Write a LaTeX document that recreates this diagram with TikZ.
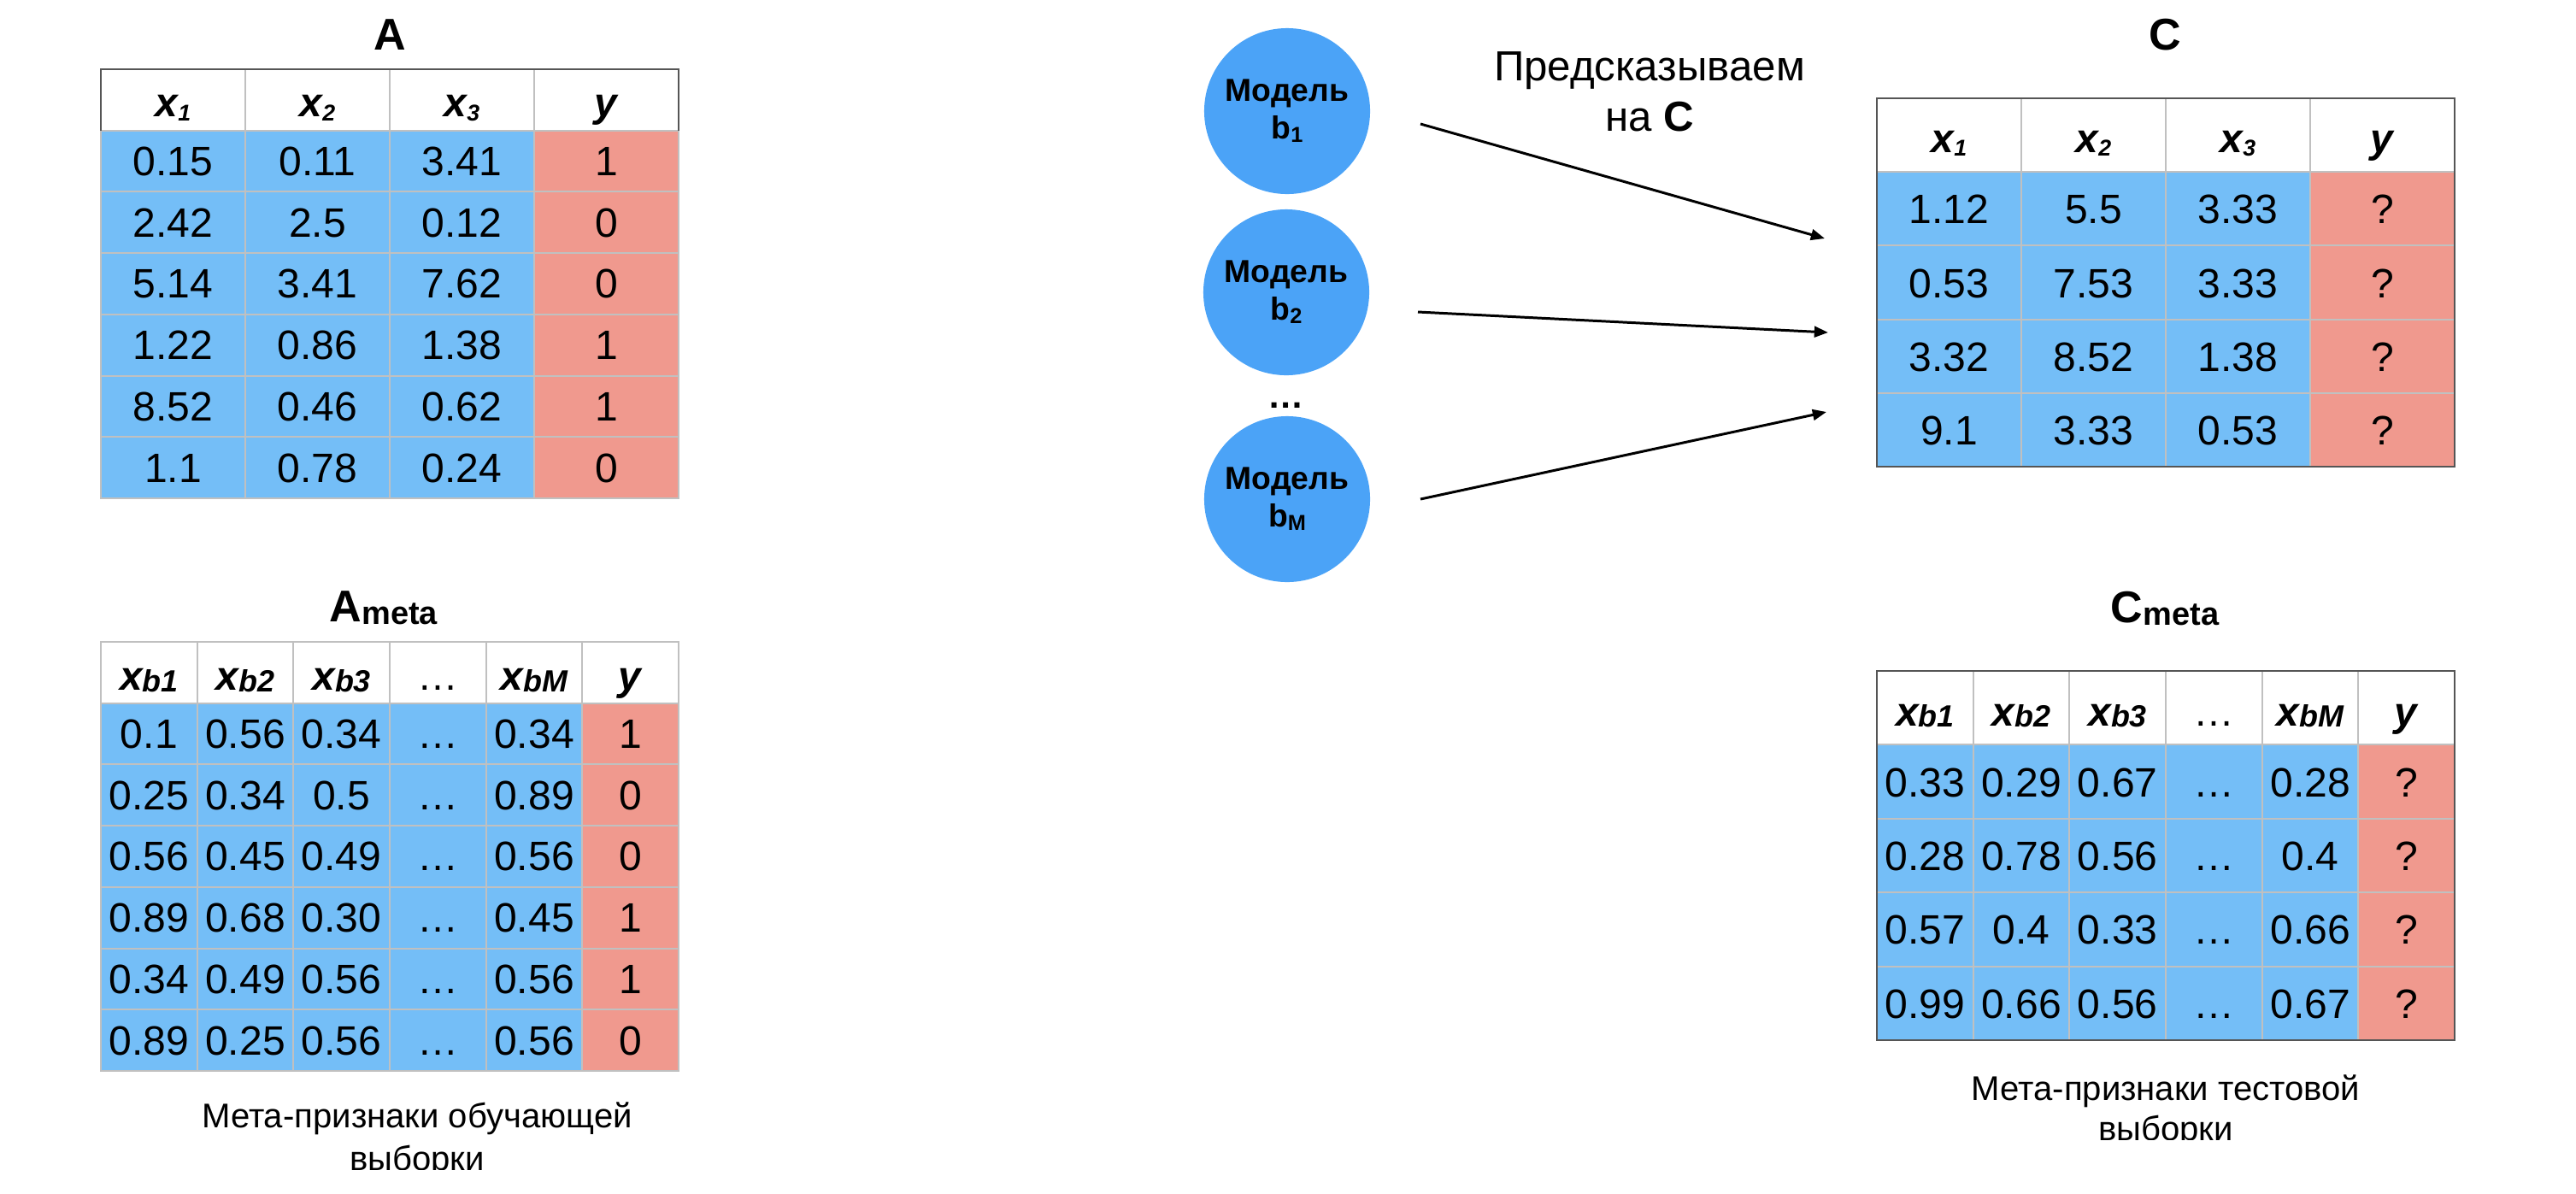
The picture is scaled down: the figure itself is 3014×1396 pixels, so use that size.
\documentclass[tikz,border=0pt]{standalone}
\usepackage{fontspec}
\setmainfont{Liberation Sans}
\usetikzlibrary{arrows.meta}

\definecolor{cellblue}{RGB}{116,190,247}
\definecolor{cellred}{RGB}{240,153,142}
\definecolor{modelblue}{RGB}{75,163,247}
\definecolor{gridgray}{RGB}{192,192,192}
\definecolor{edgegray}{RGB}{85,85,85}

% size helper and a lowered, smaller suffix
\newcommand\fsz[1]{\fontsize{#1}{#1}\selectfont}
\newcommand\lowsub[3]{{\fsz{#1}\raisebox{-#2}{#3}}}
% column headers
\newcommand\hx[1]{\textbf{\textit{x\lowsub{7.6}{1.2pt}{#1}}}}
\newcommand\hxb[1]{\textbf{\textit{x\lowsub{10.2}{0.4pt}{b#1}}}}
\newcommand\hy{\textbf{\textit{y}}}

\tikzset{
  gridline/.style={draw=gridgray, line width=0.57pt},
  darkline/.style={draw=edgegray, line width=0.7pt},
  dat/.style={anchor=base, inner sep=0pt, font=\fsz{13.66}},
  hd/.style={anchor=base, inner sep=0pt, font=\fsz{13.6}},
  ttl/.style={anchor=base, inner sep=0pt, font=\bfseries\fsz{14.8}},
  captext/.style={anchor=base, inner sep=0pt, font=\fsz{11.4}},
  pred/.style={anchor=base, inner sep=0pt, font=\fsz{14}},
  model/.style={circle, fill=modelblue, minimum size=1.94cm, inner sep=0pt,
    align=center, font=\bfseries\fontsize{10.6}{12.5}\selectfont},
  arr/.style={line width=0.85pt, -{Triangle[length=4.6pt,width=3.6pt]}}
}

\begin{document}
\begin{tikzpicture}[x=0.01cm, y=-0.01cm]
\useasboundingbox (0,0) rectangle (3014,1396);

% ---------------- table A ----------------
\fill[cellblue] (118,152.7) rectangle (625,583);
\fill[cellred]  (625,152.7) rectangle (794,583);
\foreach \i in {1,2,3} \draw[gridline] ({118+\i*169},81) -- ({118+\i*169},583);
\foreach \j in {1,...,6} \draw[gridline] (118,{81+\j*71.7}) -- (794,{81+\j*71.7});
\draw[gridline] (118,81) rectangle (794,583);
\draw[darkline] (118,152.7) -- (118,81) -- (794,81) -- (794,152.7);
\foreach \t [count=\c] in {\hx{1},\hx{2},\hx{3},\hy}
  \node[hd] (A-h\c) at ({118+(\c-0.5)*169},{81+0.5*71.7+20}) {\t};
\foreach \row [count=\r] in {{0.15,0.11,3.41,1},{2.42,2.5,0.12,0},{5.14,3.41,7.62,0},
    {1.22,0.86,1.38,1},{8.52,0.46,0.62,1},{1.1,0.78,0.24,0}}
  \foreach \v [count=\c] in \row
    \node[dat] (A-\r-\c) at ({118+(\c-0.5)*169},{81+(\r+0.5)*71.7+17}) {\v};
\node[ttl] (A-title) at (456,58) {A};

% ---------------- table A meta ----------------
\fill[cellblue] (118,822.7) rectangle (681.3,1253);
\fill[cellred]  (681.3,822.7) rectangle (794,1253);
\foreach \i in {1,...,5} \draw[gridline] ({118+\i*112.67},751) -- ({118+\i*112.67},1253);
\foreach \j in {1,...,6} \draw[gridline] (118,{751+\j*71.7}) -- (794,{751+\j*71.7});
\draw[gridline] (118,751) rectangle (794,1253);
\foreach \t [count=\c] in {\hxb{1},\hxb{2},\hxb{3},…,\hxb{M},\hy}
  \node[hd] (Am-h\c) at ({118+(\c-0.5)*112.67},{751+0.5*71.7+21}) {\t};
\foreach \row [count=\r] in {{0.1,0.56,0.34,…,0.34,1},{0.25,0.34,0.5,…,0.89,0},
    {0.56,0.45,0.49,…,0.56,0},{0.89,0.68,0.30,…,0.45,1},
    {0.34,0.49,0.56,…,0.56,1},{0.89,0.25,0.56,…,0.56,0}}
  \foreach \v [count=\c] in \row
    \node[dat] (Am-\r-\c) at ({118+(\c-0.5)*112.67},{751+(\r+0.5)*71.7+17}) {\v};
\node[ttl] (Am-title) at (449,727) {A\lowsub{10.8}{1pt}{meta}};
\begin{scope}
  \clip (150,1250) rectangle (850,1368);
  \node[captext] (Am-cap1) at (488,1319) {Мета-признаки обучающей};
  \node[captext] (Am-cap2) at (488,1369) {выборки};
\end{scope}

% ---------------- table C ----------------
\fill[cellblue] (2196,201.2) rectangle (2703,546);
\fill[cellred]  (2703,201.2) rectangle (2872,546);
\foreach \i in {1,2,3} \draw[gridline] ({2196+\i*169},115) -- ({2196+\i*169},546);
\foreach \j in {1,...,4} \draw[gridline] (2196,{115+\j*86.2}) -- (2872,{115+\j*86.2});
\draw[darkline] (2196,115) rectangle (2872,546);
\foreach \t [count=\c] in {\hx{1},\hx{2},\hx{3},\hy}
  \node[hd] (C-h\c) at ({2196+(\c-0.5)*169},{115+0.5*86.2+20}) {\t};
\foreach \row [count=\r] in {{1.12,5.5,3.33,?},{0.53,7.53,3.33,?},
    {3.32,8.52,1.38,?},{9.1,3.33,0.53,?}}
  \foreach \v [count=\c] in \row
    \node[dat] (C-\r-\c) at ({2196+(\c-0.5)*169},{115+(\r+0.5)*86.2+17.5}) {\v};
\node[ttl] (C-title) at (2533,58) {C};

% ---------------- table C meta ----------------
\fill[cellblue] (2196,871.4) rectangle (2759.3,1217);
\fill[cellred]  (2759.3,871.4) rectangle (2872,1217);
\foreach \i in {1,...,5} \draw[gridline] ({2196+\i*112.67},785) -- ({2196+\i*112.67},1217);
\foreach \j in {1,...,4} \draw[gridline] (2196,{785+\j*86.4}) -- (2872,{785+\j*86.4});
\draw[darkline] (2196,785) rectangle (2872,1217);
\foreach \t [count=\c] in {\hxb{1},\hxb{2},\hxb{3},…,\hxb{M},\hy}
  \node[hd] (Cm-h\c) at ({2196+(\c-0.5)*112.67},{785+0.5*86.4+21}) {\t};
\foreach \row [count=\r] in {{0.33,0.29,0.67,…,0.28,?},{0.28,0.78,0.56,…,0.4,?},
    {0.57,0.4,0.33,…,0.66,?},{0.99,0.66,0.56,…,0.67,?}}
  \foreach \v [count=\c] in \row
    \node[dat] (Cm-\r-\c) at ({2196+(\c-0.5)*112.67},{785+(\r+0.5)*86.4+17.5}) {\v};
\node[ttl] (Cm-title) at (2533,728) {C\lowsub{10.8}{1pt}{meta}};
\begin{scope}
  \clip (2200,1220) rectangle (2880,1333);
  \node[captext] (Cm-cap1) at (2534,1287) {Мета-признаки тестовой};
  \node[captext] (Cm-cap2) at (2534,1334) {выборки};
\end{scope}

% ---------------- base models and predictions ----------------
\node[model] (m1) at (1506,130) {Модель\\b\lowsub{7.2}{1.2pt}{1}};
\node[model] (m2) at (1505,342) {Модель\\b\lowsub{7.2}{1.2pt}{2}};
\node[model] (mM) at (1506,584) {Модель\\b\lowsub{7.2}{1.2pt}{M}};
\node[anchor=base, inner sep=0pt, font=\bfseries\fsz{12}] (mdots) at (1505,477) {…};

\node[pred] (pred1) at (1930,94) {Предсказываем};
\node[pred] (pred2) at (1930,153) {на \textbf{C}};

\coordinate (s1) at (1662,145);  \coordinate (t1) at (2135,279);
\coordinate (s2) at (1659,365);  \coordinate (t2) at (2139,389);
\coordinate (s3) at (1662,584);  \coordinate (t3) at (2137,482);
\draw[arr] (s1) -- (t1);
\draw[arr] (s2) -- (t2);
\draw[arr] (s3) -- (t3);
\end{tikzpicture}
\end{document}
